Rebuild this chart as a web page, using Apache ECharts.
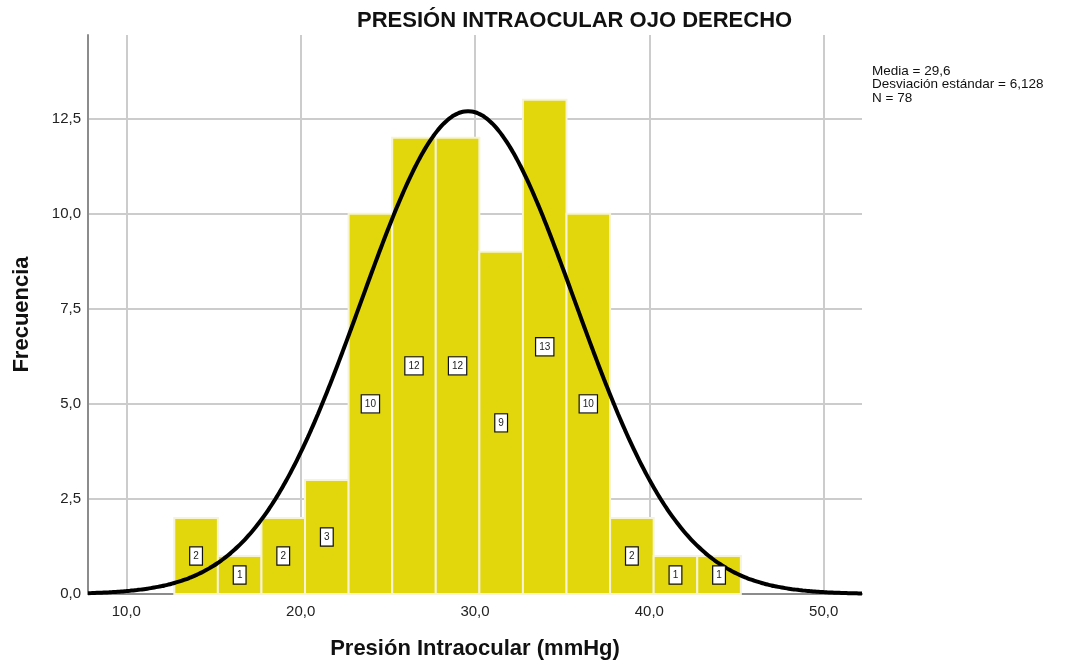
<!DOCTYPE html>
<html><head><meta charset="utf-8">
<script src="https://cdn.jsdelivr.net/npm/echarts@6/dist/echarts.min.js"></script>
<style>html,body{margin:0;padding:0;background:#fff}#c{width:1065px;height:666px}</style>
</head><body><div id="c"></div>
<script>
// Data
const binLower = [12.75, 15.25, 17.75, 20.25, 22.75, 25.25, 27.75, 30.25, 32.75, 35.25, 37.75, 40.25, 42.75];
const binWidth = 2.5;
const counts   = [2, 1, 2, 3, 10, 12, 12, 9, 13, 10, 2, 1, 1];
const xTicks = [10, 20, 30, 40, 50];
const yTicks = [0, 2.5, 5, 7.5, 10, 12.5];
const stats = { mean: 29.6, sd: 6.128, n: 78 };
const statsLines = ['Media = 29,6', 'Desviación estándar = 6,128', 'N = 78'];
const xMin = 7.8, xMax = 52.2, yMax = 14.7;

// Fitted normal curve, from the stated mean, sd, N and bin width
const curve = [];
for (let x = xMin; x <= xMax + 1e-9; x += 0.2) {
  const z = (x - stats.mean) / stats.sd;
  curve.push([x, stats.n * binWidth * Math.exp(-0.5 * z * z) / (stats.sd * Math.sqrt(2 * Math.PI))]);
}
const barData = binLower.map((b, i) => [b, b + binWidth, counts[i]]);
const labelData = binLower.map((b, i) => [b + binWidth / 2, counts[i] / 2, counts[i]]);
const fmt = v => v.toFixed(1).replace('.', ',');
const FF = 'Liberation Sans, Arial, sans-serif';

const chart = echarts.init(document.getElementById('c'));
chart.setOption({
  animation: false,
  backgroundColor: '#fff',
  textStyle: { fontFamily: FF },
  title: { text: 'PRESIÓN INTRAOCULAR OJO DERECHO', left: 352, top: 5,
    textStyle: { fontSize: 22, fontWeight: 'bold', color: '#111', fontFamily: FF } },
  graphic: [{ type: 'text', left: 872, top: 64,
    style: { text: statsLines.join('\n'), fontSize: 13.5, lineHeight: 13.5, fill: '#111', fontFamily: FF } }],
  grid: { left: 88, right: 203, top: 35, bottom: 72, containLabel: false },
  xAxis: {
    type: 'value', min: xMin, max: xMax,
    name: 'Presión Intraocular (mmHg)', nameLocation: 'middle', nameGap: 44,
    nameTextStyle: { fontSize: 22, fontWeight: 'bold', color: '#111' },
    axisLine: { show: true, onZero: false, lineStyle: { color: '#8c8c8c', width: 2 } },
    axisTick: { show: false, customValues: xTicks },
    axisLabel: { customValues: xTicks, formatter: fmt, fontSize: 15, color: '#222', margin: 10 },
    splitLine: { show: true, lineStyle: { color: '#cccccc', width: 2 } }
  },
  yAxis: {
    type: 'value', min: 0, max: yMax,
    name: 'Frecuencia', nameLocation: 'middle', nameGap: 55, nameRotate: 90,
    nameTextStyle: { fontSize: 22, fontWeight: 'bold', color: '#111' },
    axisLine: { show: true, onZero: false, lineStyle: { color: '#8c8c8c', width: 2 } },
    axisTick: { show: false, customValues: yTicks },
    axisLabel: { customValues: yTicks, formatter: fmt, fontSize: 15, color: '#222', margin: 7 },
    splitLine: { show: true, lineStyle: { color: '#cccccc', width: 2 } }
  },
  series: [
    {
      type: 'custom', data: barData, z: 2,
      encode: { x: [0, 1], y: 2 },
      renderItem: (params, api) => {
        const p0 = api.coord([api.value(0), api.value(2)]);
        const p1 = api.coord([api.value(1), 0]);
        return { type: 'rect',
          shape: { x: p0[0], y: p0[1], width: p1[0] - p0[0], height: p1[1] - p0[1] },
          style: { fill: '#e2d70c', stroke: '#f6f3d6', lineWidth: 2 } };
      }
    },
    {
      type: 'line', data: curve, showSymbol: false, symbol: 'none', smooth: true, z: 3,
      lineStyle: { color: '#000', width: 4 }
    },
    {
      type: 'scatter', data: labelData, symbolSize: 0, z: 4,
      itemStyle: { opacity: 1 },
      label: { show: true, position: 'inside', formatter: p => String(p.value[2]), opacity: 1,
        fontSize: 10, color: '#222', backgroundColor: '#ffffff', borderColor: '#111', borderWidth: 1.2,
        padding: [4, 3, 3, 3] }
    }
  ]
});
</script></body></html>
